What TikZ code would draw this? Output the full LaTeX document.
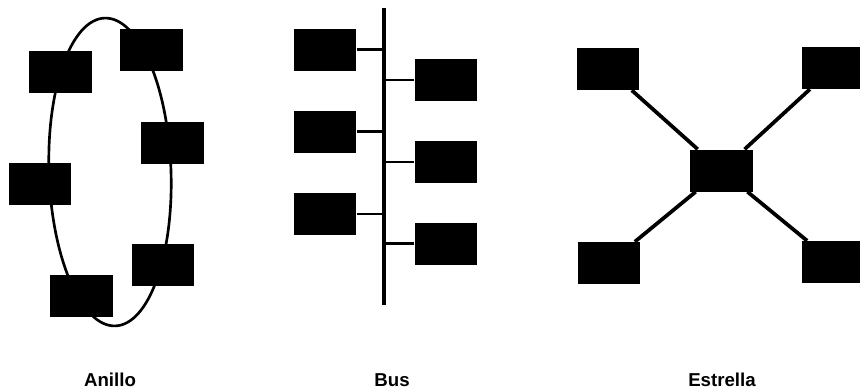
\documentclass[tikz,border=0pt]{standalone}
\usepackage{fontspec}
\setmainfont{Liberation Sans}

\begin{document}
\begin{tikzpicture}[x=0.75pt, y=-0.75pt,
    host/.style={rectangle, fill=black, inner sep=0pt,
      minimum width=47pt, minimum height=31.5pt},
    cable/.style={line width=2pt},
    trunk/.style={line width=2.8pt},
    caption/.style={anchor=base, font=\bfseries\fontsize{14}{16}\selectfont}]
  \useasboundingbox (0,0) rectangle (860,389);

  % ring
  \draw [cable, rotate around={2:(110,172)}] (110,172) ellipse [x radius=61, y radius=154];
  \node [host] (a1) at (60.5,71.5) {};
  \node [host] (a2) at (151.5,50) {};
  \node [host] (a3) at (172.5,142.5) {};
  \node [host] (a4) at (40,184) {};
  \node [host] (a5) at (163,264.5) {};
  \node [host] (a6) at (81.5,296) {};
  \node [caption] (ring) at (110,386) {Anillo};

  % bus
  \coordinate (top) at (384,8);
  \coordinate (bottom) at (384,305);
  \draw [trunk] (top) -- (bottom);
  \foreach \n/\y in {l1/49.5, l2/131.5, l3/214} {
    \node [host] (\n) at (325,\y) {};
    \draw [cable] (\n.east) -- (\n.east -| top);
  }
  \foreach \n/\y in {r1/80, r2/162, r3/243.5} {
    \node [host] (\n) at (446,\y) {};
    \draw [cable] (\n.west) -- (\n.west -| top);
  }
  \node [caption] (bus) at (392,386) {Bus};

  % star
  \node [host] (hub) at (721.5,170.5) {};
  \node [host] (s1) at (608,69) {};
  \node [host] (s2) at (833,68) {};
  \node [host] (s3) at (609,263) {};
  \node [host] (s4) at (833,262) {};
  \foreach \n in {s1,s2,s3,s4}
    \draw [trunk] (hub) -- (\n);
  \node [caption] (star) at (722,386) {Estrella};
\end{tikzpicture}
\end{document}
